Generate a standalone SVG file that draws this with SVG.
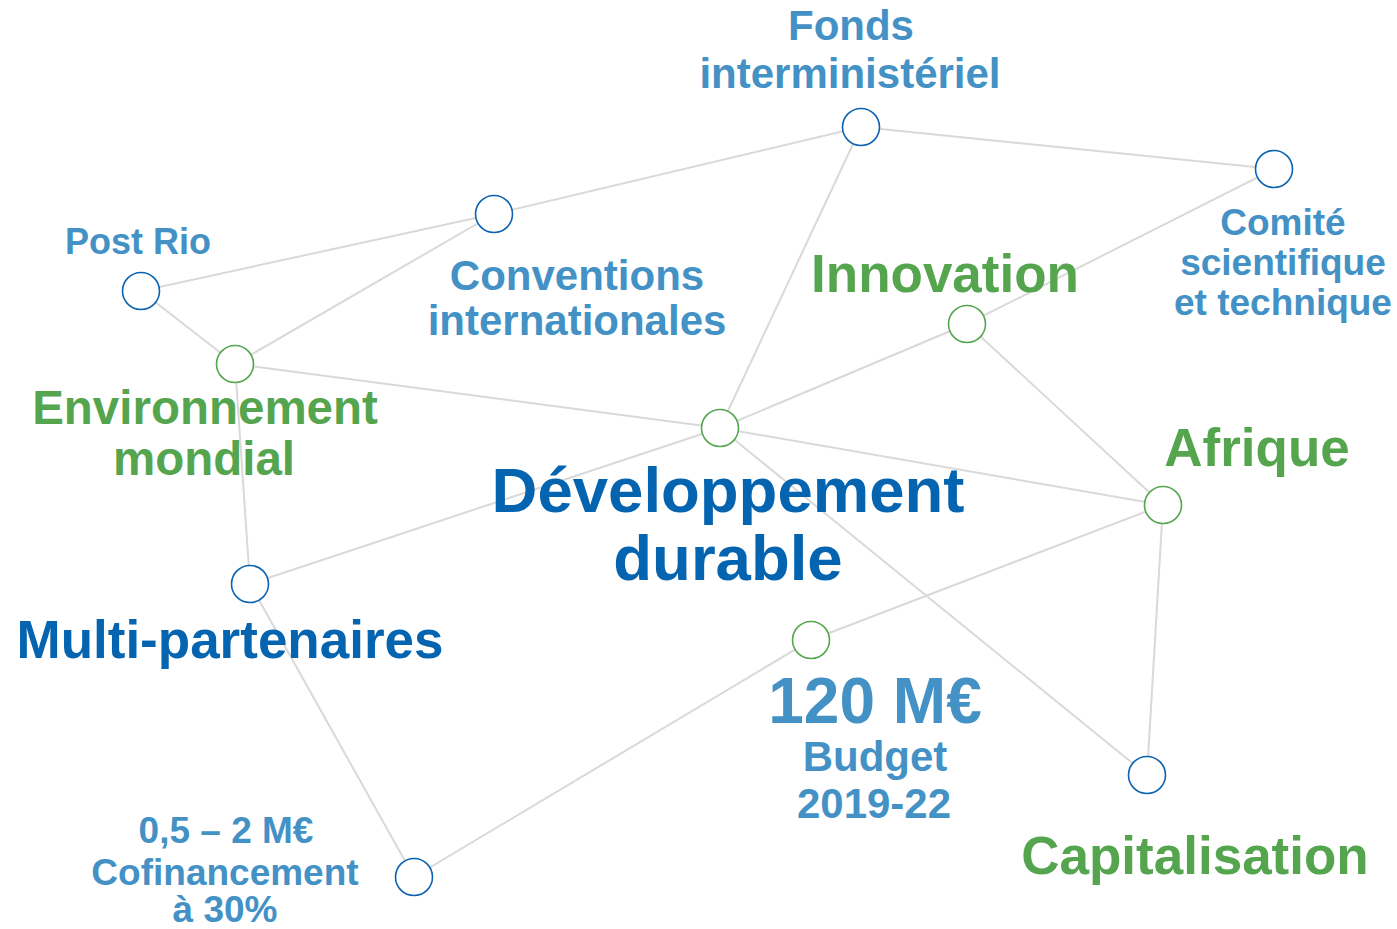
<svg xmlns="http://www.w3.org/2000/svg" width="1397" height="929" viewBox="0 0 1397 929">
<style>
text{font-family:"Liberation Sans",Arial,sans-serif;font-weight:bold;text-anchor:middle}
.lb{fill:#4391c5}
.gr{fill:#55a54f}
.db{fill:#0564b0}
.edge{stroke:#d9d9d9;stroke-width:2;fill:none}
.nb{fill:#ffffff;stroke:#0a62b0;stroke-width:1.6}
.ng{fill:#ffffff;stroke:#55a54f;stroke-width:1.6}
</style>
<rect width="1397" height="929" fill="#ffffff"/>
<g id="connectors">
<line class="edge" x1="141" y1="291" x2="494" y2="214"/>
<line class="edge" x1="141" y1="291" x2="235" y2="364"/>
<line class="edge" x1="494" y1="214" x2="235" y2="364"/>
<line class="edge" x1="494" y1="214" x2="861" y2="127"/>
<line class="edge" x1="861" y1="127" x2="1274" y2="169"/>
<line class="edge" x1="861" y1="127" x2="720" y2="428"/>
<line class="edge" x1="1274" y1="169" x2="967" y2="324"/>
<line class="edge" x1="967" y1="324" x2="720" y2="428"/>
<line class="edge" x1="967" y1="324" x2="1163" y2="505"/>
<line class="edge" x1="235" y1="364" x2="720" y2="428"/>
<line class="edge" x1="235" y1="364" x2="250" y2="584"/>
<line class="edge" x1="720" y1="428" x2="1163" y2="505"/>
<line class="edge" x1="720" y1="428" x2="1147" y2="775"/>
<line class="edge" x1="250" y1="584" x2="720" y2="428"/>
<line class="edge" x1="250" y1="584" x2="414" y2="877"/>
<line class="edge" x1="414" y1="877" x2="811" y2="640"/>
<line class="edge" x1="811" y1="640" x2="1163" y2="505"/>
<line class="edge" x1="1163" y1="505" x2="1147" y2="775"/>
</g>
<g id="node-fonds">
<circle class="nb" cx="861" cy="127" r="18.5"/>
<text class="lb" font-size="42" x="851" y="40">Fonds</text>
<text class="lb" font-size="42" x="850" y="88">interministériel</text>
</g>
<g id="node-comite">
<circle class="nb" cx="1274" cy="169" r="18.5"/>
<text class="lb" font-size="37" x="1283" y="235">Comité</text>
<text class="lb" font-size="37" x="1283" y="275">scientifique</text>
<text class="lb" font-size="37" x="1283" y="315">et technique</text>
</g>
<g id="node-conventions">
<circle class="nb" cx="494" cy="214" r="18.5"/>
<text class="lb" font-size="42" x="577" y="290">Conventions</text>
<text class="lb" font-size="42" x="577" y="335">internationales</text>
</g>
<g id="node-postrio">
<circle class="nb" cx="141" cy="291" r="18.5"/>
<text class="lb" font-size="36" x="138" y="254">Post Rio</text>
</g>
<g id="node-environnement">
<circle class="ng" cx="235" cy="364" r="18.5"/>
<text class="gr" font-size="47.5" x="205" y="424">Environnement</text>
<text class="gr" font-size="47.5" x="204" y="475">mondial</text>
</g>
<g id="node-innovation">
<circle class="ng" cx="967" cy="324" r="18.5"/>
<text class="gr" font-size="53" x="945" y="292">Innovation</text>
</g>
<g id="node-developpement">
<circle class="ng" cx="720" cy="428" r="18.5"/>
<text class="db" font-size="63.5" x="728" y="512">Développement</text>
<text class="db" font-size="63.5" x="728" y="580">durable</text>
</g>
<g id="node-afrique">
<circle class="ng" cx="1163" cy="505" r="18.5"/>
<text class="gr" font-size="53" x="1257" y="466">Afrique</text>
</g>
<g id="node-multi">
<circle class="nb" cx="250" cy="584" r="18.5"/>
<text class="db" font-size="53" x="230" y="658">Multi-partenaires</text>
</g>
<g id="node-budget">
<circle class="ng" cx="811" cy="640" r="18.5"/>
<text class="lb" font-size="64" x="875" y="723">120 M€</text>
<text class="lb" font-size="42" x="875" y="771">Budget</text>
<text class="lb" font-size="42" x="874" y="818">2019-22</text>
</g>
<g id="node-capitalisation">
<circle class="nb" cx="1147" cy="775" r="18.5"/>
<text class="gr" font-size="53" x="1195" y="874">Capitalisation</text>
</g>
<g id="node-cofinancement">
<circle class="nb" cx="414" cy="877" r="18.5"/>
<text class="lb" font-size="37" x="226" y="843">0,5 – 2 M€</text>
<text class="lb" font-size="37" x="225" y="885">Cofinancement</text>
<text class="lb" font-size="37" x="225" y="922">à 30%</text>
</g>
</svg>
